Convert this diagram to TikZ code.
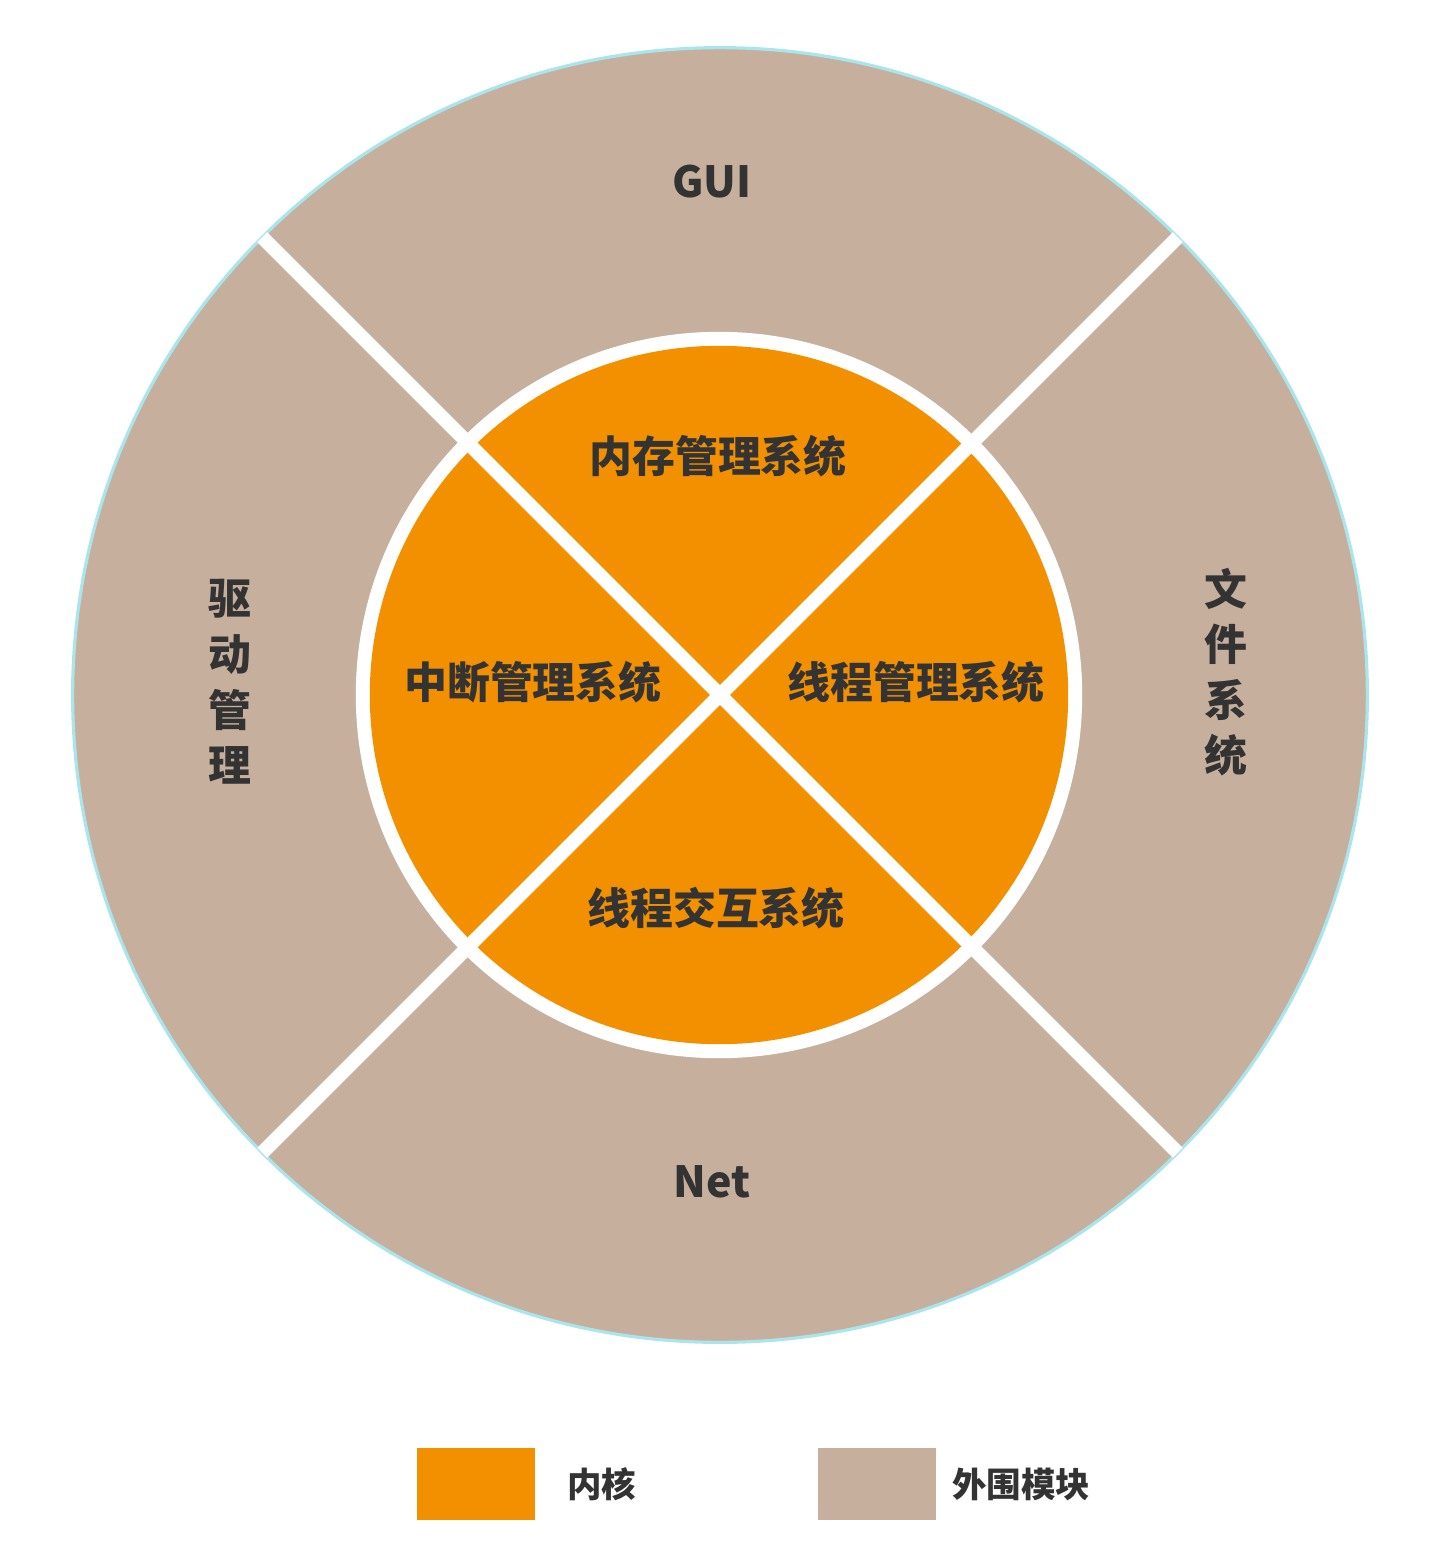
\documentclass[tikz,border=0pt]{standalone}
\usepackage{fontspec}
\setmainfont{Noto Sans CJK SC}
\usetikzlibrary{positioning}

\definecolor{kernelorange}{HTML}{F39000}
\definecolor{outertan}{HTML}{C6B09D}
\definecolor{rimcyan}{HTML}{A9E5EC}
\definecolor{textgray}{HTML}{333333}

\begin{document}
\begin{tikzpicture}[
    x=0.01cm, y=-0.01cm,
    ring/.style={circle, inner sep=0pt, outer sep=0pt},
    divider/.style={draw=white, line width=4pt},
    label/.style={text=textgray, inner sep=0pt, align=center, font=\fontsize{12.2}{15.8}\selectfont\bfseries},
    legendbox/.style={rectangle, minimum width=1.18cm, minimum height=0.72cm, inner sep=0pt},
    legendtext/.style={text=textgray, inner sep=0pt, font=\fontsize{9.8}{12}\selectfont\bfseries}
]
\useasboundingbox (0,0) rectangle (1438,1553);

% ---- Rings ----
\node[ring, fill=outertan, draw=rimcyan, line width=0.9pt, minimum size=12.94cm] (outer) at (720,695) {};
\node[ring, fill=white, minimum size=7.26cm] (rim) at (719,695) {};
\node[ring, fill=kernelorange, minimum size=6.98cm] (kernel) at (719,695) {};

% ---- Dividers ----
\draw[divider] (outer.135) -- (outer.-45);
\draw[divider] (outer.45) -- (outer.-135);

% ---- Outer modules ----
\node[label] (gui) at (712,182) {GUI};
\node[label] (net) at (712,1182) {Net};
\node[label] (driver) at (230,682) {驱\\动\\管\\理};
\node[label] (fs) at (1226,672) {文\\件\\系\\统};

% ---- Kernel parts ----
\node[label] (memory) at (718,456) {内存管理系统};
\node[label] (interrupt) at (533,682) {中断管理系统};
\node[label] (thread) at (916,682) {线程管理系统};
\node[label] (ipc) at (716,908) {线程交互系统};

% ---- Legend ----
\node[legendbox, fill=kernelorange] (keykernel) at (476,1484) {};
\node[legendtext, right=0.31cm of keykernel] (keykerneltext) {内核};
\node[legendbox, fill=outertan] (keyouter) at (877,1484) {};
\node[legendtext, right=0.15cm of keyouter] (keyoutertext) {外围模块};
\end{tikzpicture}
\end{document}
